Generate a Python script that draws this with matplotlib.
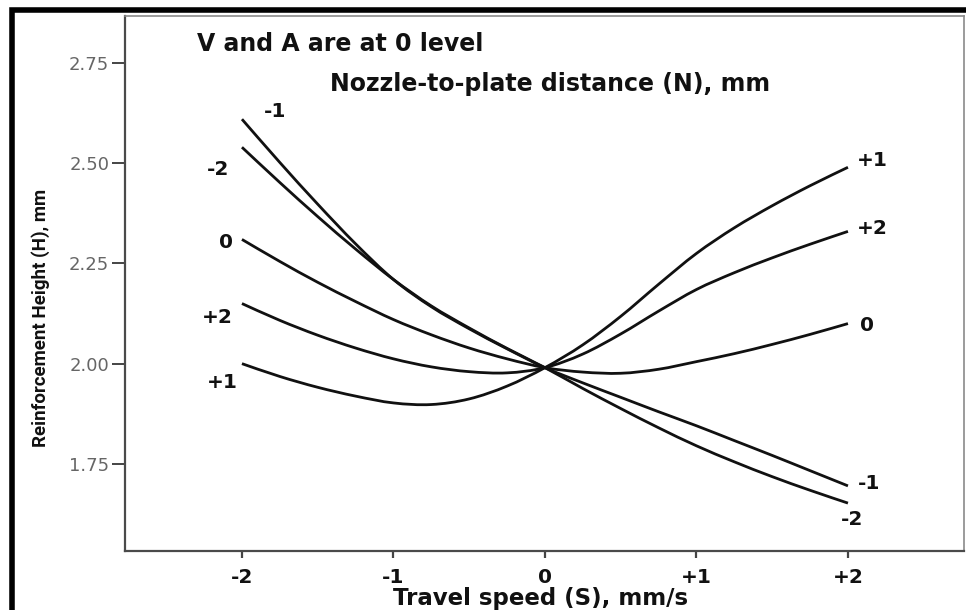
import matplotlib
matplotlib.use("Agg")
import numpy as np
import matplotlib.pyplot as plt
from matplotlib.patches import Rectangle, PathPatch
from matplotlib.path import Path
from matplotlib import font_manager

# Travel speed (coded levels) and reinforcement height for each nozzle-to-plate level
speed = [-2, -1.75, -1.5, -1.25, -1, -0.75, -0.5, -0.25, 0,
         0.25, 0.5, 0.75, 1, 1.25, 1.5, 1.75, 2]
h_n_minus1 = [2.61, 2.502, 2.398, 2.299, 2.21, 2.142, 2.087, 2.037, 1.99,
              1.952, 1.916, 1.88, 1.845, 1.808, 1.771, 1.733, 1.695]
h_n_minus2 = [2.54, 2.452, 2.367, 2.286, 2.21, 2.144, 2.089, 2.038, 1.99,
              1.938, 1.888, 1.84, 1.795, 1.755, 1.718, 1.684, 1.652]
h_n_zero = [2.31, 2.255, 2.203, 2.155, 2.11, 2.072, 2.039, 2.012, 1.99,
            1.979, 1.976, 1.986, 2.005, 2.025, 2.048, 2.073, 2.10]
h_n_plus2 = [2.15, 2.108, 2.071, 2.039, 2.012, 1.992, 1.980, 1.977, 1.99,
             2.024, 2.074, 2.131, 2.185, 2.227, 2.264, 2.298, 2.33]
h_n_plus1 = [2.00, 1.968, 1.941, 1.919, 1.902, 1.898, 1.912, 1.944, 1.99,
             2.047, 2.118, 2.198, 2.275, 2.339, 2.394, 2.444, 2.49]

x_ticks = [-2, -1, 0, 1, 2]
x_tick_labels = ["-2", "-1", "0", "+1", "+2"]
y_ticks = [1.75, 2.00, 2.25, 2.50, 2.75]
y_tick_labels = ["1.75", "2.00", "2.25", "2.50", "2.75"]

curves = [h_n_minus1, h_n_minus2, h_n_zero, h_n_plus2, h_n_plus1]

# (text, S, H) for the level tags at both ends of the curves
left_tags = [("-1", -1.78, 2.63), ("-2", -2.16, 2.485), ("0", -2.105, 2.3025),
             ("+2", -2.16, 2.115), ("+1", -2.13, 1.9525)]
right_tags = [("+1", 2.16, 2.5075), ("+2", 2.16, 2.3375), ("0", 2.125, 2.095),
              ("-1", 2.14, 1.70), ("-2", 2.03, 1.61)]


def smooth_curve(xs, ys):
    """Catmull-Rom curve through the points, as cubic Bezier segments."""
    pts = np.column_stack([xs, ys]).astype(float)
    n = len(pts)
    verts = [pts[0]]
    codes = [Path.MOVETO]
    for i in range(n - 1):
        p0 = pts[i - 1] if i > 0 else pts[i]
        p1 = pts[i]
        p2 = pts[i + 1]
        p3 = pts[i + 2] if i + 2 < n else pts[i + 1]
        verts += [p1 + (p2 - p0) / 6.0, p2 - (p3 - p1) / 6.0, p2]
        codes += [Path.CURVE4] * 3
    return Path(verts, codes)


W, H = 966, 610
fig = plt.figure(figsize=(W / 100, H / 100), dpi=100)
fig.patch.set_facecolor("white")

ax = fig.add_axes([125 / W, 1 - 551 / H, (964 - 125) / W, (551 - 16) / H])
for y in curves:
    ax.add_patch(PathPatch(smooth_curve(speed, y), fill=False,
                           edgecolor="#111111", lw=2.0, capstyle="butt"))

ax.set_xlim(-2.772, 2.766)
ax.set_ylim(1.5325, 2.8675)

ax.set_xticks(x_ticks)
ax.set_xticklabels(x_tick_labels, fontsize=14.5, fontweight="bold", color="#111111")
ax.set_yticks(y_ticks)
ax.set_yticklabels(y_tick_labels, fontsize=13, color="#666666")
ax.tick_params(axis="y", direction="out", length=9.4, width=1.4, color="#444444", pad=2)
ax.tick_params(axis="x", direction="out", length=5, width=1.6, color="#444444", pad=7.5)

for side in ["left", "bottom"]:
    ax.spines[side].set_color("#4a4a4a")
    ax.spines[side].set_linewidth(1.6)
for side in ["top", "right"]:
    ax.spines[side].set_color("#8a8a8a")
    ax.spines[side].set_linewidth(1.2)

fig.text(541 / W, 1 - 598 / H, "Travel speed (S), mm/s", fontsize=16.5,
         fontweight="bold", color="#111111", ha="center", va="center")

installed = {f.name for f in font_manager.fontManager.ttflist}
if "Liberation Sans Narrow" in installed:
    ylab_family, ylab_size = "Liberation Sans Narrow", 16
else:
    ylab_family, ylab_size = "Roboto", 13.5
fig.text(41 / W, 1 - 318 / H, "Reinforcement Height (H), mm", fontsize=ylab_size,
         fontweight="bold", family=[ylab_family, "DejaVu Sans"], color="#111111",
         rotation=90, ha="center", va="center")

for txt, s, h in left_tags + right_tags:
    ax.text(s, h, txt, fontsize=14.5, fontweight="bold", color="#111111",
            ha="center", va="center")

fig.text(197 / W, 1 - 44 / H, "V and A are at 0 level", fontsize=17,
         fontweight="bold", color="#111111", ha="left", va="center")
fig.text(330 / W, 1 - 84 / H, "Nozzle-to-plate distance (N), mm", fontsize=17,
         fontweight="bold", color="#111111", ha="left", va="center")

# heavy outer frame around the figure
fig.add_artist(Rectangle((12 / W, -0.2), 1.5, 1 - 10 / H + 0.2, fill=False,
                         lw=4, edgecolor="black", transform=fig.transFigure))

fig.savefig("out.png", dpi=100)
